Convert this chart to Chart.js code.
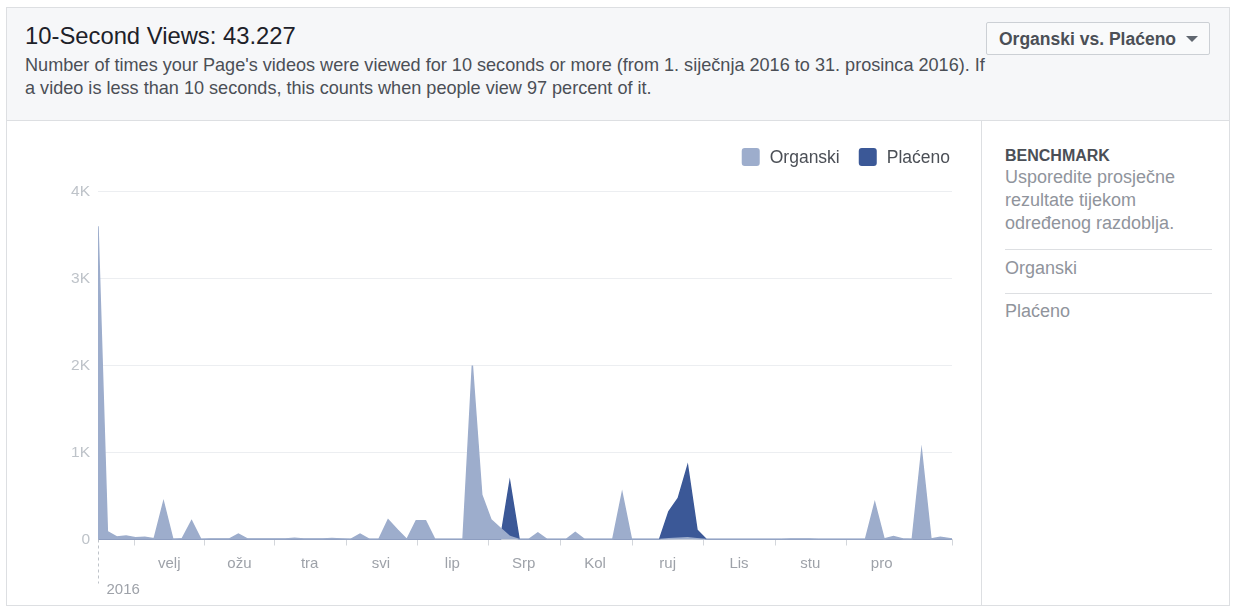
<!DOCTYPE html>
<html>
<head>
<meta charset="utf-8">
<script src="https://cdn.jsdelivr.net/npm/chart.js@4.4.1/dist/chart.umd.min.js"></script>
<style>
  html, body { margin:0; padding:0; background:#ffffff; width:1237px; height:608px; overflow:hidden; }
  body { font-family: "Liberation Sans", Arial, Helvetica, sans-serif; position:relative; }
  .abs { position:absolute; white-space:nowrap; }
  #frame { left:6px; top:7px; width:1222px; height:597px; border:1px solid #dddfe2; background:#fff; box-sizing:content-box; }
  #header { left:7px; top:8px; width:1222px; height:112px; background:#f6f7f9; border-bottom:1px solid #dddfe2; }
  #title { left:25px; top:22px; font-size:23.8px; line-height:28px; color:#1d2129; }
  #subtitle { left:25px; top:54px; font-size:18.1px; line-height:23px; color:#4b4f56; }
  #btn { left:986px; top:22px; width:222px; height:31px; border:1px solid #ccd0d5; border-radius:2px; background:#f9fafb; }
  #btnText { left:999px; top:27px; font-size:17.5px; font-weight:bold; line-height:24px; color:#4b4f56; }
  #caret { left:1186px; top:36px; width:0; height:0; border-left:6px solid transparent; border-right:6px solid transparent; border-top:6px solid #606770; }
  #vdiv { left:981px; top:121px; width:1px; height:484px; background:#dddfe2; }
  #bench { left:1005px; top:146px; font-size:16px; font-weight:bold; line-height:20px; color:#4b4f56; }
  #benchDesc { left:1005px; top:166px; font-size:18px; line-height:23px; color:#90949c; }
  .hr { position:absolute; left:1005px; width:207px; height:1px; background:#dddfe2; }
  .side { font-size:18px; line-height:23px; color:#90949c; }
  #chartWrap { position:absolute; left:8px; top:121px; width:972px; height:484px; }
</style>
</head>
<body>
<div id="frame" class="abs"></div>
<div id="header" class="abs"></div>
<div id="title" class="abs">10-Second Views: 43.227</div>
<div id="subtitle" class="abs">Number of times your Page's videos were viewed for 10 seconds or more (from 1. siječnja 2016 to 31. prosinca 2016). If<br>a video is less than 10 seconds, this counts when people view 97 percent of it.</div>
<div id="btn" class="abs"></div>
<div id="btnText" class="abs">Organski vs. Plaćeno</div>
<div id="caret" class="abs"></div>
<div id="vdiv" class="abs"></div>
<div id="bench" class="abs">BENCHMARK</div>
<div id="benchDesc" class="abs">Usporedite prosječne<br>rezultate tijekom<br>određenog razdoblja.</div>
<div class="hr" style="top:249px"></div>
<div class="abs side" style="left:1005px; top:256.5px">Organski</div>
<div class="hr" style="top:293px"></div>
<div class="abs side" style="left:1005px; top:299.5px">Plaćeno</div>
<div id="chartWrap"><canvas id="c" width="972" height="484"></canvas></div>

<script>
// ---- data (day of year 2016, 0 = 1 Jan) ----
const seriesNames = ['Organski', 'Plaćeno'];

const organicDays   = [0, 4, 8, 12, 16, 20, 24, 28, 32, 36, 40, 44, 48, 56, 60, 64, 72, 80, 84, 88, 96, 100, 104, 108, 112, 116, 120, 124, 128, 132, 136, 140, 144, 156, 160, 164, 168, 172, 176, 180, 184, 188, 192, 200, 204, 208, 220, 224, 228, 240, 244, 252, 256, 260, 292, 296, 304, 308, 328, 332, 336, 340, 344, 348, 352, 356, 360, 365];
const organicValues = [3600, 90, 30, 40, 20, 25, 8, 430, 0, 10, 215, 0, 5, 5, 62, 5, 5, 5, 15, 5, 5, 12, 5, 0, 62, 0, 0, 225, 110, 0, 215, 215, 0, 0, 2000, 515, 225, 130, 35, 0, 0, 75, 0, 0, 80, 0, 0, 530, 0, 0, 10, 20, 10, 0, 0, 5, 5, 0, 0, 420, 5, 35, 5, 0, 1010, 5, 25, 5];

const paidDays   = [0, 172, 176, 180, 240, 244, 248, 252, 256, 260, 365];
const paidValues = [0, 0, 660, 0, 0, 320, 475, 845, 110, 0, 0];

const yTickValues = [0, 1000, 2000, 3000, 4000];
const yTickLabels = ['0', '1K', '2K', '3K', '4K'];

const monthTickDays = [15.5, 45.5, 75.5, 106, 136.5, 167, 197.5, 228.5, 259, 289.5, 320, 365];
const monthLabels   = ['velj', 'ožu', 'tra', 'svi', 'lip', 'Srp', 'Kol', 'ruj', 'Lis', 'stu', 'pro', ''];
const yearLabel = '2016';

// ---- build ----
const organicPts = organicDays.map((d, i) => ({ x: d, y: organicValues[i] }));
const paidPts = paidDays.map((d, i) => ({ x: d, y: paidValues[i] }));

const ORG = '#9dadcc';
const PAID = '#3b5897';
const FONT = '"Liberation Sans", Arial, Helvetica, sans-serif';

function roundRect(ctx, x, y, w, h, r) {
  ctx.beginPath();
  ctx.moveTo(x + r, y);
  ctx.lineTo(x + w - r, y);
  ctx.quadraticCurveTo(x + w, y, x + w, y + r);
  ctx.lineTo(x + w, y + h - r);
  ctx.quadraticCurveTo(x + w, y + h, x + w - r, y + h);
  ctx.lineTo(x + r, y + h);
  ctx.quadraticCurveTo(x, y + h, x, y + h - r);
  ctx.lineTo(x, y + r);
  ctx.quadraticCurveTo(x, y, x + r, y);
  ctx.closePath();
}

const legendPlugin = {
  id: 'fbLegend',
  afterDraw(chart) {
    const ctx = chart.ctx;
    ctx.save();
    ctx.font = '17.5px ' + FONT;
    ctx.textBaseline = 'middle';
    ctx.textAlign = 'left';
    const y = 36;
    let x = chart.chartArea.right - 2;
    const ds = chart.data.datasets;
    for (let i = ds.length - 1; i >= 0; i--) {
      const w = ctx.measureText(ds[i].label).width;
      const tx = x - w;
      ctx.fillStyle = '#4b4f56';
      ctx.fillText(ds[i].label, tx, y + 1);
      const bx = tx - 10 - 18;
      ctx.fillStyle = ds[i].backgroundColor;
      roundRect(ctx, bx, y - 9, 18, 18, 3);
      ctx.fill();
      x = bx - 19;
    }
    ctx.restore();
  }
};

const yearPlugin = {
  id: 'yearMark',
  afterDraw(chart) {
    const ctx = chart.ctx;
    const xs = chart.scales.x;
    const x0 = Math.round(xs.getPixelForValue(0)) + 0.5;
    const b = chart.chartArea.bottom;
    ctx.save();
    ctx.strokeStyle = '#bec3c9';
    ctx.lineWidth = 1;
    ctx.setLineDash([3, 3]);
    ctx.beginPath();
    ctx.moveTo(x0, b);
    ctx.lineTo(x0, b + 44);
    ctx.stroke();
    ctx.setLineDash([]);
    ctx.font = '15px ' + FONT;
    ctx.fillStyle = '#9ea2a9';
    ctx.textBaseline = 'middle';
    ctx.textAlign = 'left';
    ctx.fillText(yearLabel, x0 + 8, b + 50);
    ctx.restore();
  }
};

new Chart(document.getElementById('c'), {
  type: 'line',
  data: {
    datasets: [
      { label: seriesNames[0], data: organicPts, backgroundColor: ORG, borderColor: ORG, borderWidth: 1.5, fill: 'origin', pointRadius: 0, tension: 0 },
      { label: seriesNames[1], data: paidPts, backgroundColor: PAID, borderColor: PAID, borderWidth: 1.5, fill: 'origin', pointRadius: 0, tension: 0 }
    ]
  },
  options: {
    responsive: false,
    animation: false,
    events: [],
    layout: { padding: { top: 70.5, right: 28, left: 0, bottom: 0 } },
    plugins: { legend: { display: false }, tooltip: { enabled: false } },
    scales: {
      x: {
        type: 'linear',
        min: 0,
        max: 365,
        afterBuildTicks(scale) { scale.ticks = monthTickDays.map(v => ({ value: v })); },
        afterFit(scale) { scale.height = 65.5; },
        ticks: {
          autoSkip: false,
          maxRotation: 0,
          labelOffset: 35,
          padding: 9,
          color: '#9ea2a9',
          font: { family: FONT, size: 15 },
          callback: (v, i) => monthLabels[i]
        },
        grid: { display: true, drawOnChartArea: false, drawTicks: true, tickLength: 6, color: '#d3d6db' },
        border: { display: true, color: '#dddfe2' }
      },
      y: {
        min: 0,
        max: 4000,
        afterBuildTicks(scale) { scale.ticks = yTickValues.map(v => ({ value: v })); },
        afterFit(scale) { scale.width = 90; },
        ticks: {
          padding: 8,
          color: '#bec3c9',
          font: { family: FONT, size: 15.5 },
          callback: (v, i) => yTickLabels[i]
        },
        grid: { color: '#eceef1', drawTicks: false },
        border: { display: false }
      }
    }
  },
  plugins: [legendPlugin, yearPlugin]
});
</script>
</body>
</html>
